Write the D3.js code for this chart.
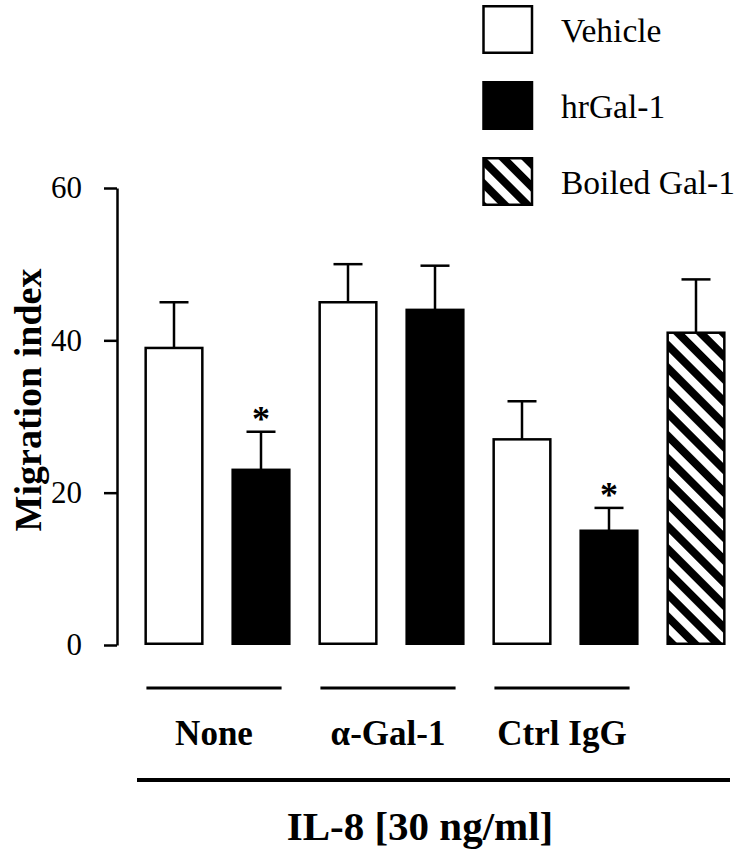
<!DOCTYPE html>
<html>
<head>
<meta charset="utf-8">
<script src="https://cdn.jsdelivr.net/npm/d3@7"></script>
<style>
  html, body { margin: 0; padding: 0; background: #fff; }
  svg { display: block; font-family: "Liberation Serif", "Times New Roman", serif; }
</style>
</head>
<body>
<svg id="chart" width="741" height="853"></svg>
<script>
// ---- data ----
const groups = ["None", "\u03B1-Gal-1", "Ctrl IgG"];
const seriesNames = ["Vehicle", "hrGal-1", "Boiled Gal-1"];
const vehicleValues = [39, 45, 27];
const vehicleErrors = [6, 5, 5];
const hrGalValues = [23, 44, 15];
const hrGalErrors = [5, 5.8, 3];
const boiledValues = [41];
const boiledErrors = [7];
const significant = [true, false, true]; // asterisk over hrGal-1 bars
const yTicks = [0, 20, 40, 60];
const yLabel = "Migration index";
const xLabel = "IL-8 [30 ng/ml]";

// ---- build bar list ----
const bars = [];
groups.forEach((g, i) => {
  bars.push({ series: 0, group: i, value: vehicleValues[i], err: vehicleErrors[i], star: false });
  bars.push({ series: 1, group: i, value: hrGalValues[i], err: hrGalErrors[i], star: significant[i] });
});
boiledValues.forEach((v, i) => bars.push({ series: 2, group: null, value: v, err: boiledErrors[i], star: false }));
bars.forEach((b, i) => b.idx = i);

const svg = d3.select("#chart");
const defs = svg.append("defs");
const pat = defs.append("pattern")
  .attr("id", "hatch").attr("patternUnits", "userSpaceOnUse")
  .attr("width", 16).attr("height", 16)
  .attr("patternTransform", "rotate(-45)");
pat.append("rect").attr("width", 16).attr("height", 16).attr("fill", "#fff");
pat.append("rect").attr("width", 8).attr("height", 16).attr("fill", "#000");

const fills = ["#fff", "#000", "url(#hatch)"];

const x = d3.scaleBand().domain(bars.map(b => b.idx)).range([130.5, 739.5])
  .paddingInner(0.32).paddingOuter(0.16);
const y = d3.scaleLinear().domain([0, 60]).range([645, 188]);

// axis
const axis = svg.append("g").attr("transform", "translate(117,0)")
  .call(d3.axisLeft(y).tickValues(yTicks).tickSize(13).tickSizeOuter(0).tickPadding(22));
axis.select(".domain").attr("stroke", "#000").attr("stroke-width", 2.5);
axis.selectAll(".tick line").attr("stroke", "#000").attr("stroke-width", 2.5);
axis.selectAll(".tick text").attr("fill", "#000")
  .style("font-size", "31px").style("font-family", "'Liberation Serif', 'Times New Roman', serif");

// y label
svg.append("text")
  .attr("transform", "translate(41,400) rotate(-90)")
  .attr("text-anchor", "middle")
  .style("font-size", "38px").style("font-weight", "bold")
  .text(yLabel);

// bars
const bw = x.bandwidth();
const gBars = svg.append("g");
// error bars
bars.forEach(b => {
  const cx = x(b.idx) + bw / 2;
  gBars.append("line").attr("x1", cx).attr("x2", cx)
    .attr("y1", y(b.value)).attr("y2", y(b.value + b.err))
    .attr("stroke", "#000").attr("stroke-width", 2.5);
  gBars.append("line").attr("x1", cx - 14.5).attr("x2", cx + 14.5)
    .attr("y1", y(b.value + b.err)).attr("y2", y(b.value + b.err))
    .attr("stroke", "#000").attr("stroke-width", 2.5);
  if (b.star) {
    gBars.append("text").attr("x", cx).attr("y", y(b.value + b.err) - 1)
      .attr("text-anchor", "middle")
      .style("font-size", "36px").style("font-weight", "bold")
      .text("*");
  }
});
gBars.selectAll("rect.bar").data(bars).join("rect")
  .attr("class", "bar")
  .attr("x", b => x(b.idx) + 1.25)
  .attr("width", bw - 2.5)
  .attr("y", b => y(b.value))
  .attr("height", b => y(0) - y(b.value) - 1.25)
  .attr("fill", b => fills[b.series])
  .attr("stroke", "#000").attr("stroke-width", 2.5);

// group lines and labels
groups.forEach((g, i) => {
  const i0 = i * 2, i1 = i * 2 + 1;
  const xs = x(i0) + 2, xe = x(i1) + bw - 9;
  svg.append("line").attr("x1", xs).attr("x2", xe).attr("y1", 688).attr("y2", 688)
    .attr("stroke", "#000").attr("stroke-width", 3);
  svg.append("text").attr("x", (xs + xe) / 2).attr("y", 745)
    .attr("text-anchor", "middle")
    .style("font-size", "35px").style("font-weight", "bold")
    .text(g);
});

// long line and x label
const [r0, r1] = x.range();
svg.append("line").attr("x1", r0 + 6.5).attr("x2", r1 - 9.5).attr("y1", 780).attr("y2", 780)
  .attr("stroke", "#000").attr("stroke-width", 4);
svg.append("text").attr("x", 420).attr("y", 840)
  .attr("text-anchor", "middle")
  .style("font-size", "41px").style("font-weight", "bold")
  .text(xLabel);

// legend
const legend = svg.append("g");
seriesNames.forEach((s, i) => {
  const top = 5 + i * 76;
  legend.append("rect").attr("x", 483.5).attr("y", top + 1.25)
    .attr("width", 48.5).attr("height", 46.5)
    .attr("fill", fills[i]).attr("stroke", "#000").attr("stroke-width", 2.5);
  legend.append("text").attr("x", 561).attr("y", top + 37)
    .style("font-size", "33.5px")
    .text(s);
});
</script>
</body>
</html>
